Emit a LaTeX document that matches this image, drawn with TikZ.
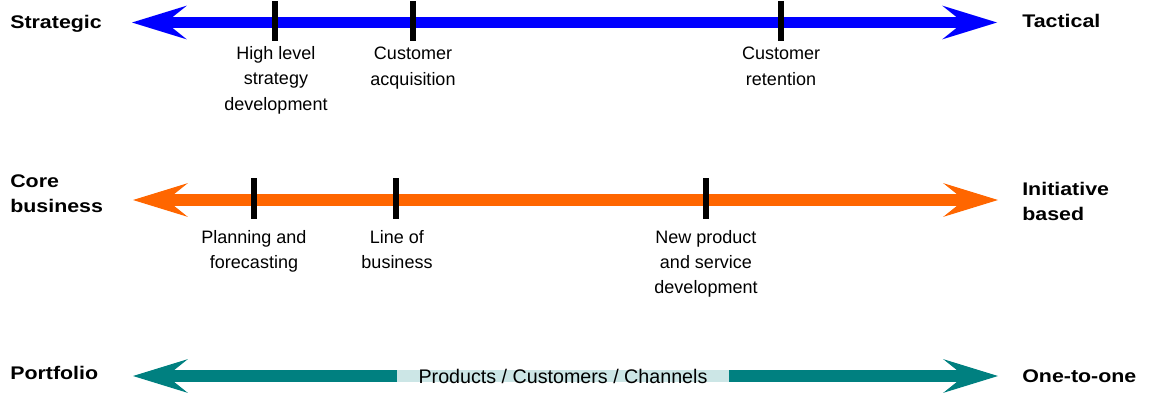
\documentclass[tikz,border=0pt]{standalone}
\usepackage{fontspec}
\setmainfont{Liberation Sans}
\usetikzlibrary{arrows.meta,positioning}
\definecolor{axisblue}{RGB}{0,0,255}
\definecolor{axisorange}{RGB}{255,102,0}
\definecolor{axisteal}{RGB}{0,128,128}
\definecolor{paleteal}{RGB}{204,230,230}
\newcommand{\wideb}[1]{\scalebox{1.17}[1]{#1}}
\tikzset{
>={Stealth[length=39pt,width=24pt,inset=15pt,line width=0pt]},
  axis/.style={draw, line width=8.2pt, <->},
  notch/.style={draw=black, line width=4.3pt},
  pole/.style={
    anchor=base west,
    align=left,
    inner sep=0pt,
    font=\fontsize{13pt}{17.5pt}\selectfont\bfseries},
  stage/.style={
    anchor=base,
    align=center,
    inner sep=0pt,
    font=\fontsize{12.8pt}{17.8pt}\selectfont},
}

\begin{document}
\begin{tikzpicture}[x=0.025cm, y=-0.025cm]
  \useasboundingbox (0,0) rectangle (1154,396);

  % strategic / tactical (labels sit on their last baseline)
  \coordinate (a1) at (132,22.5);
  \coordinate (b1) at (997,22.5);
  \node[pole] (item1) at (10,28) {\wideb{Strategic}};
  \node[pole] (item2) at (1022,27.5) {\wideb{Tactical}};
  \path[axis, axisblue] (a1) -- (b1);
  \draw[notch] (275,1) -- (275,40.5);
  \draw[notch] (413,1) -- (413,40.5);
  \draw[notch] (781,1) -- (781,40.5);
  \node[stage] (item3) at (276,110) {High level\\strategy\\development};
  \node[stage] (item4) at (413,85) {Customer\\acquisition};
  \node[stage] (item5) at (781,85) {Customer\\retention};

  % core business / initiative based
  \coordinate (a2) at (133,200);
  \coordinate (b2) at (998,200);
  \node[pole] (item6) at (10,212.5) {\wideb{Core}\\\wideb{business}};
  \node[pole] (item7) at (1022,220) {\wideb{Initiative}\\\wideb{based}};
  \path[axis, axisorange] (a2) -- (b2);
  \draw[notch] (254,178) -- (254,219);
  \draw[notch] (396,178) -- (396,219);
  \draw[notch] (706,178) -- (706,219);
  \node[stage] (item8) at (254,268.5) {Planning and\\forecasting};
  \node[stage] (item9) at (397,268.5) {Line of\\business};
  \node[stage] (item10) at (706,293.5) {New product\\and service\\development};

  % portfolio / one-to-one
  \coordinate (a3) at (133,376);
  \coordinate (b3) at (998,376);
  \node[pole] (item11) at (10,379) {\wideb{Portfolio}};
  \node[pole] (item12) at (1022,382.5) {\wideb{One-to-one}};
  \path[axis, axisteal] (a3) -- (b3);
  \fill[paleteal] (397,370.25) rectangle (729,381.75);
  \node[stage, font=\fontsize{14pt}{17pt}\selectfont] (item13) at (563,383)
    {Products / Customers / Channels};
\end{tikzpicture}
\end{document}
